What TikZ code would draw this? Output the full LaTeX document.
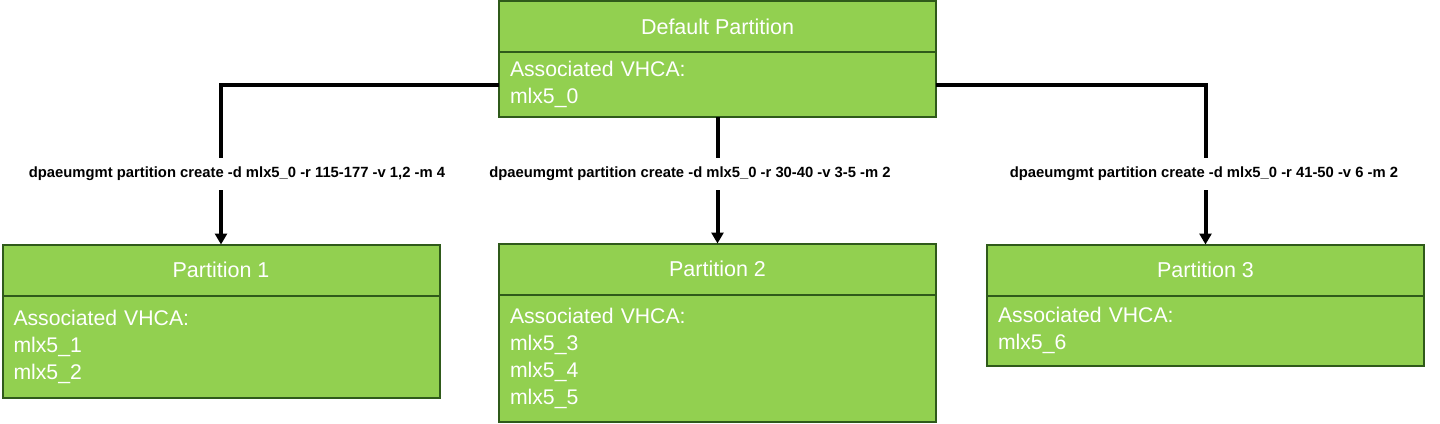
\documentclass[tikz,border=0pt]{standalone}
\usepackage{fontspec}
\setmainfont{Liberation Sans}
\usetikzlibrary{positioning,arrows.meta}

\definecolor{partgreen}{HTML}{92D050}
\definecolor{partedge}{HTML}{2F5A1A}

\tikzstyle{part head}=[draw=partedge,fill=partgreen,line width=2pt,
    minimum width=437pt,minimum height=51pt,inner sep=0pt,outer sep=0pt,
    text=white,font=\fontsize{21.5}{25}\selectfont]
\tikzstyle{part body}=[draw=partedge,fill=partgreen,line width=2pt,
    minimum width=437pt,text width=415pt,align=left,inner xsep=11pt,
    inner ysep=0pt,outer sep=0pt,text=white,font=\fontsize{21.2}{27}\selectfont]
\tikzstyle{cmd}=[font=\bfseries\fontsize{14.8}{16}\selectfont,
    minimum height=32pt,inner sep=0pt]
\tikzstyle{link}=[line width=4pt,>={Triangle[length=11pt,width=12pt]}]
\newcommand{\partbox}[5]{
    \node[part head] at (#1) (#2) {#3};
    \node[part body,minimum height=#5,below=0pt of #2] (#2b) {#4};
}

\begin{document}
\begin{tikzpicture}[x=1pt,y=-1pt]
    \useasboundingbox (0,0) rectangle (1440,423);
    \partbox{717.5,26.5}{dp}{Default Partition}{Associated VHCA:\\mlx5\_0}{65pt}
    \partbox{221,270}{p1}{Partition 1}{Associated VHCA:\\mlx5\_1\\mlx5\_2}{102pt}
    \partbox{717.5,269}{p2}{Partition 2}{Associated VHCA:\\mlx5\_3\\mlx5\_4\\mlx5\_5}{127pt}
    \partbox{1205.5,270}{p3}{Partition 3}{Associated VHCA:\\mlx5\_6}{70pt}

    \node[cmd] at (237,174) (lab1) {dpaeumgmt partition create -d mlx5\_0 -r 115-177 -v 1,2 -m 4};
    \node[cmd] at (690,174) (lab2) {dpaeumgmt partition create -d mlx5\_0 -r 30-40 -v 3-5 -m 2};
    \node[cmd] at (1204,174) (lab3) {dpaeumgmt partition create -d mlx5\_0 -r 41-50 -v 6 -m 2};

    \draw[link] (dpb.west) -| (p1.north |- lab1.north);
    \draw[link] (dpb.south) -- (p2.north |- lab2.north);
    \draw[link] (dpb.east) -| (p3.north |- lab3.north);
    \draw[link,->] (p1.north |- lab1.south) -- (p1);
    \draw[link,->] (p2.north |- lab2.south) -- (p2);
    \draw[link,->] (p3.north |- lab3.south) -- (p3);
\end{tikzpicture}
\end{document}
